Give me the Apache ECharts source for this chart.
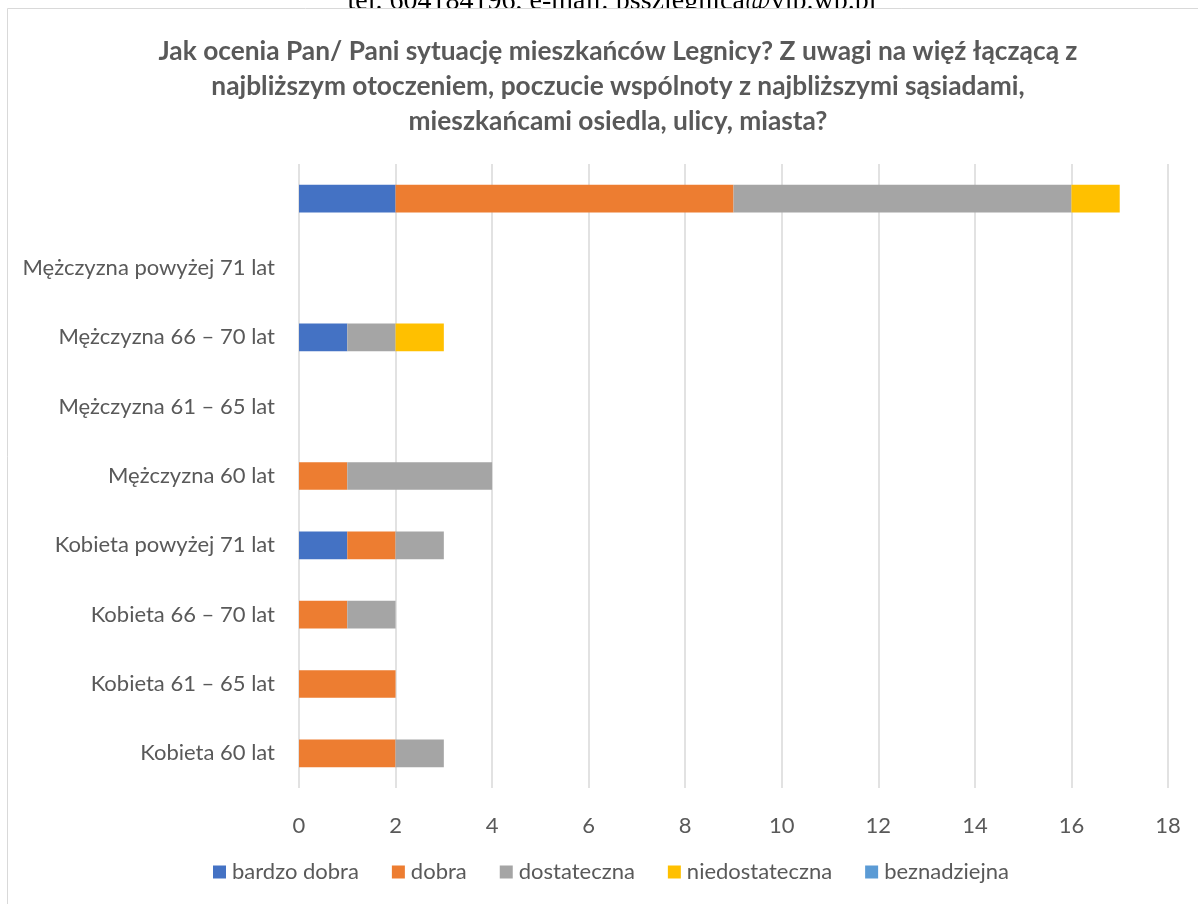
<!DOCTYPE html>
<html>
<head>
<meta charset="utf-8">
<script src="https://cdn.jsdelivr.net/npm/echarts@6/dist/echarts.min.js"></script>
<style>
html,body{margin:0;padding:0;background:#fff;}
#c{width:1198px;height:904px;}
</style>
</head>
<body>
<div id="c"></div>
<script>
const categories = ["Kobieta 60 lat", "Kobieta 61 – 65 lat", "Kobieta 66 – 70 lat", "Kobieta powyżej 71 lat", "Mężczyzna 60 lat", "Mężczyzna 61 – 65 lat", "Mężczyzna 66 – 70 lat", "Mężczyzna powyżej 71 lat", ""];
const seriesNames = ["bardzo dobra", "dobra", "dostateczna", "niedostateczna", "beznadziejna"];
const bardzoDobra    = [0, 0, 0, 1, 0, 0, 1, 0, 2];
const dobra          = [2, 2, 1, 1, 1, 0, 0, 0, 7];
const dostateczna    = [1, 0, 1, 1, 3, 0, 1, 0, 7];
const niedostateczna = [0, 0, 0, 0, 0, 0, 1, 0, 1];
const beznadziejna   = [0, 0, 0, 0, 0, 0, 0, 0, 0];
const seriesValues = [bardzoDobra, dobra, dostateczna, niedostateczna, beznadziejna];
const colors = ["#4472c4", "#ed7d31", "#a5a5a5", "#ffc000", "#5b9bd5"];
const titleText = "Jak ocenia Pan/ Pani sytuację mieszkańców Legnicy? Z uwagi na więź łączącą z\nnajbliższym otoczeniem, poczucie wspólnoty z najbliższymi sąsiadami,\nmieszkańcami osiedla, ulicy, miasta?";
const headerText = "tel. 604184196, e-mail: psszlegnica@vip.wp.pl";

const chart = echarts.init(document.getElementById('c'));
const font = "Lato, 'Open Sans', sans-serif";
chart.setOption({
  animation: false,
  color: colors,
  graphic: [
    { type: 'text', z: -2, style: { x: 612, y: 16, text: headerText, font: "28px 'Liberation Serif', serif", fill: '#000', textAlign: 'center', verticalAlign: 'bottom' } },
    { type: 'rect', z: -1, shape: { x: 7.5, y: 8.5, width: 1240, height: 940 }, style: { fill: '#fff', stroke: '#d9d9d9', lineWidth: 1 } }
  ],
  title: {
    text: titleText,
    left: 613,
    textAlign: 'center',
    top: 29,
    textStyle: { fontFamily: font, fontSize: 26.3, fontWeight: 'bold', color: '#595959', lineHeight: 35 }
  },
  legend: {
    data: seriesNames,
    bottom: 16,
    left: 208,
    itemWidth: 13,
    itemHeight: 13,
    itemGap: 33,
    icon: 'rect',
    textStyle: { fontFamily: font, fontSize: 22, color: '#595959', padding: [0, 0, 0, 1] }
  },
  grid: { left: 299, right: 30, top: 164, bottom: 116, containLabel: false },
  xAxis: {
    type: 'value',
    min: 0, max: 18, interval: 2,
    axisLine: { show: false },
    axisTick: { show: false },
    axisLabel: { fontFamily: font, fontSize: 22, color: '#595959', margin: 27 },
    splitLine: { show: true, lineStyle: { color: '#d9d9d9', width: 1.5 } }
  },
  yAxis: {
    type: 'category',
    data: categories,
    axisLine: { show: false },
    axisTick: { show: false },
    axisLabel: { fontFamily: font, fontSize: 22, color: '#595959', margin: 24 }
  },
  series: seriesValues.map((vals, i) => ({
    name: seriesNames[i],
    type: 'bar',
    stack: 'total',
    barCategoryGap: '60%',
    data: vals,
    itemStyle: { color: colors[i] }
  }))
});
</script>
</body>
</html>
